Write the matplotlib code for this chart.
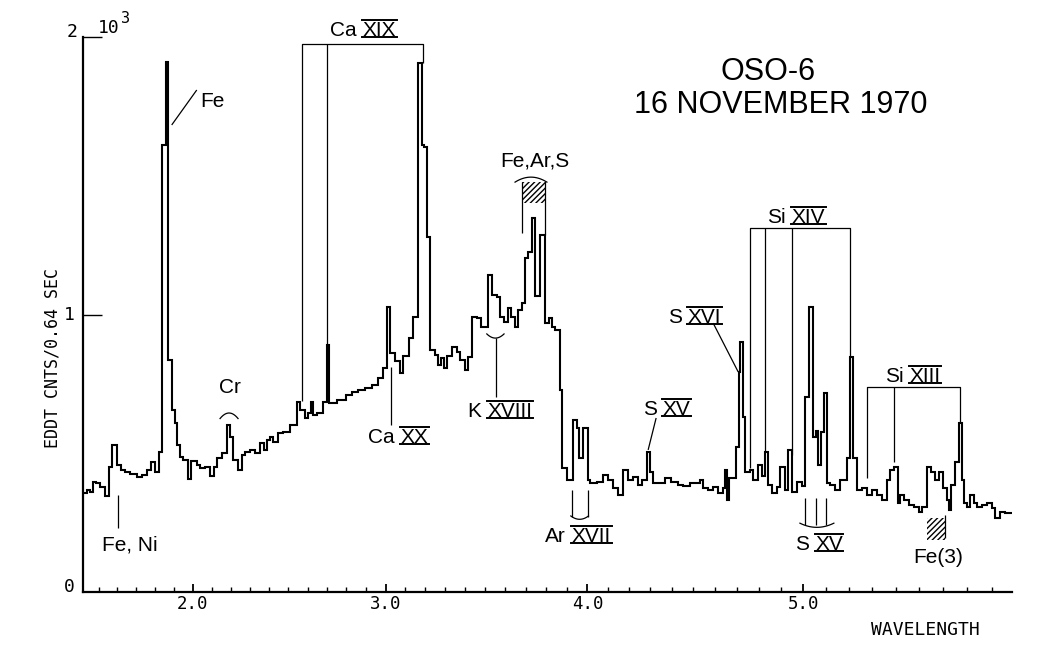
import numpy as np
import matplotlib.pyplot as plt
from matplotlib.lines import Line2D
from matplotlib.patches import Rectangle

plt.rcParams['hatch.linewidth'] = 1.0

# spectrum: wavelength (A) where each step starts, and the counts in that step
wl = [1.4155, 1.4369, 1.4545, 1.4722, 1.4866, 1.5080, 1.5348, 1.5578, 1.5706, 1.5973,
      1.6186, 1.6415, 1.6681, 1.7037, 1.7302, 1.7566, 1.7778, 1.8005, 1.8233, 1.8376,
      1.8587, 1.8709, 1.8889, 1.9063, 1.9169, 1.9328, 1.9503, 1.9767, 1.9894, 2.0211,
      2.0384, 2.0647, 2.0911, 2.1121, 2.1295, 2.1526, 2.1789, 2.1963, 2.2104, 2.2396,
      2.2573, 2.2745, 2.3005, 2.3267, 2.3529, 2.3738, 2.3911, 2.4052, 2.4223, 2.4482,
      2.4741, 2.5088, 2.5466, 2.5606, 2.5865, 2.6036, 2.6176, 2.6295, 2.6472, 2.6813,
      2.6979, 2.7108, 2.7503, 2.7979, 2.8287, 2.8595, 2.8954, 2.9311, 2.9617, 2.9872,
      3.0076, 3.0228, 3.0482, 3.0736, 3.0888, 3.1192, 3.1394, 3.1662, 3.1833, 3.1965,
      3.2085, 3.2265, 3.2500, 3.2650, 3.2800, 3.2950, 3.3101, 3.3337, 3.3588, 3.3754,
      3.4005, 3.4169, 3.4338, 3.4587, 3.4801, 3.5163, 3.5330, 3.5576, 3.5739, 3.5936,
      3.6133, 3.6281, 3.6478, 3.6640, 3.6808, 3.6970, 3.7133, 3.7300, 3.7463, 3.7709,
      3.7956, 3.8116, 3.8280, 3.8440, 3.8681, 3.8792, 3.9005, 3.9296, 3.9490, 3.9587,
      3.9782, 4.0005, 4.0133, 4.0467, 4.0752, 4.0990, 4.1228, 4.1465, 4.1702, 4.1938,
      4.2174, 4.2394, 4.2582, 4.2816, 4.2986, 4.3141, 4.3662, 4.3977, 4.4270, 4.4516,
      4.4856, 4.5321, 4.5460, 4.5690, 4.5921, 4.6151, 4.6381, 4.6472, 4.6564, 4.6656,
      4.6977, 4.7083, 4.7128, 4.7281, 4.7385, 4.7611, 4.7760, 4.7986, 4.8140, 4.8288,
      4.8437, 4.8590, 4.8815, 4.8964, 4.9187, 4.9335, 4.9487, 4.9710, 4.9933, 5.0079,
      5.0225, 5.0445, 5.0564, 5.0665, 5.0771, 5.0916, 5.1035, 5.1179, 5.1397, 5.1616,
      5.1908, 5.2022, 5.2169, 5.2342, 5.2558, 5.2775, 5.2991, 5.3205, 5.3419, 5.3632,
      5.3774, 5.3944, 5.4084, 5.4169, 5.4338, 5.4549, 5.4760, 5.4970, 5.5113, 5.5346,
      5.5488, 5.5667, 5.5846, 5.6012, 5.6153, 5.6248, 5.6318, 5.6496, 5.6632, 5.6773,
      5.6868, 5.6979, 5.7114, 5.7248, 5.7386, 5.7589, 5.7793, 5.7996, 5.8132, 5.8304,
      5.8532]
wl_end = 5.88
cnt = [356, 368, 361, 397, 393, 379, 346, 452, 530, 458,
       440, 434, 425, 414, 422, 440, 470, 434, 506, 1611,
       1910, 836, 656, 609, 530, 486, 476, 406, 472, 458,
       446, 452, 418, 452, 482, 500, 602, 560, 476, 440,
       494, 506, 512, 501, 536, 512, 548, 560, 542, 572,
       578, 602, 686, 656, 626, 644, 685, 638, 644, 686,
       890, 680, 692, 710, 721, 728, 735, 746, 771, 807,
       1027, 861, 832, 789, 850, 915, 991, 1906, 1611, 1604,
       1279, 872, 854, 818, 843, 807, 850, 884, 865, 836,
       800, 848, 992, 986, 956, 1142, 1070, 1063, 992, 974,
       1023, 991, 956, 1016, 1041, 1203, 1226, 1348, 1067, 1286,
       969, 987, 956, 944, 728, 447, 404, 620, 591, 483,
       591, 404, 393, 396, 422, 404, 375, 350, 440, 404,
       414, 386, 404, 506, 434, 393, 411, 396, 386, 382,
       393, 404, 375, 368, 379, 357, 375, 440, 332, 411,
       524, 793, 902, 632, 434, 440, 404, 458, 418, 506,
       386, 357, 379, 452, 368, 512, 361, 397, 382, 704,
       1028, 560, 580, 458, 578, 718, 392, 386, 368, 404,
       482, 848, 482, 368, 375, 350, 368, 350, 332, 404,
       440, 452, 320, 350, 332, 314, 307, 289, 307, 452,
       434, 404, 434, 375, 332, 295, 386, 470, 608, 404,
       320, 307, 350, 320, 307, 314, 320, 303, 267, 289,
       284]

# crystal spectrometer: the wavelength axis is linear in Bragg angle (2d ~ 8.7 A)
two_d = 8.7
major_ticks = [2.0, 3.0, 4.0, 5.0]
major_labels = ['2.0', '3.0', '4.0', '5.0']
minor_ticks = [round(1.5 + 0.1 * i, 1) for i in range(44)]

LAB = dict(fontfamily='Liberation Sans', fontsize=15, color='black')
MONO = 'DejaVu Sans Mono'

fig = plt.figure(figsize=(10.52, 6.55), dpi=100)
ax = fig.add_axes([82.7 / 1052, 1 - 592 / 655, (1012 - 82.7) / 1052, (592 - 37) / 655])
ax.set_xscale('function', functions=(lambda x: np.arcsin(np.clip(np.asarray(x) / two_d, -1, 1)),
                                     lambda t: two_d * np.sin(t)))
ax.set_xlim(1.4155, wl_end)
ax.set_ylim(0, 2000)

ax.stairs(cnt, wl + [wl_end], baseline=None, color='black', lw=1.5)

for s in ['top', 'right']:
    ax.spines[s].set_visible(False)
for s in ['left', 'bottom']:
    ax.spines[s].set_linewidth(1.6)

ax.set_xticks(major_ticks)
ax.set_xticklabels(major_labels)
ax.set_xticks(minor_ticks, minor=True)
ax.tick_params(axis='x', which='major', direction='in', length=6, width=1.3, pad=2, labelsize=12.5)
ax.tick_params(axis='x', which='minor', direction='in', length=3.5, width=1.0)
for lab in ax.get_xticklabels():
    lab.set_fontfamily(MONO)
ax.set_yticks([1000, 2000])
ax.set_yticklabels([])
ax.tick_params(axis='y', which='major', direction='in', length=14, width=1.0)
ax.tick_params(axis='y', which='minor', left=False)

yt = ax.get_yaxis_transform()
ax.text(-0.006, 2000, '2', transform=yt, ha='right', va='baseline', fontfamily=MONO, fontsize=13)
ax.text(-0.009, 1000, '1', transform=yt, ha='right', va='center', fontfamily=MONO, fontsize=13)
ax.text(-0.009, 0, '0', transform=yt, ha='right', va='baseline', fontfamily=MONO, fontsize=13)
ax.text(0.0165, 2014, '10', transform=yt, ha='left', va='baseline', fontfamily=MONO, fontsize=13)
ax.text(0.0415, 2052, '3', transform=yt, ha='left', va='baseline', fontfamily=MONO, fontsize=11)

fig.text(52.5 / 1052, 1 - 358 / 655, 'EDDT CNTS/0.64 SEC', rotation=90, ha='center', va='center',
         fontfamily=MONO, fontsize=12)
fig.text(925 / 1052, 1 - 630 / 655, 'WAVELENGTH', ha='center', va='center', fontfamily=MONO, fontsize=13)

fig.text(768 / 1052, 1 - 80 / 655, 'OSO-6', ha='center', va='baseline', fontfamily='Liberation Sans', fontsize=22)
fig.text(781 / 1052, 1 - 113 / 655, '16 NOVEMBER 1970', ha='center', va='baseline',
         fontfamily='Liberation Sans', fontsize=22)


def line(xs, ys):
    ax.plot(xs, ys, color='black', lw=0.9, solid_capstyle='butt')


def arc(x0, x1, y, h):
    u = np.linspace(-1, 1, 25)
    ax.plot(x0 + (u + 1) / 2 * (x1 - x0), y + h * u ** 2, color='black', lw=0.9)


def hatch_box(x0, x1, y0, y1):
    ax.add_patch(Rectangle((x0, y0), x1 - x0, y1 - y0, fill=False, hatch='//////',
                           edgecolor='black', lw=0))


# Fe
line([1.8889, 2.0211], [1683, 1809])
# Fe, Ni
line([1.6059, 1.6059], [350, 231])
# Cr
arc(2.1437, 2.2380, 645, -20)
# Ca XIX
line([2.5694, 2.5694, 3.1915, 3.1915], [690, 1975, 1975, 1906])
line([2.6990, 2.6990], [1975, 890])
# Ca XX
line([3.0279, 3.0279], [811, 602])
# K XVIII
arc(3.5084, 3.5936, 915, 15)
line([3.5527, 3.5527], [915, 703])
# Fe, Ar, S
hatch_box(3.6808, 3.7990, 1402, 1477)
line([3.6808, 3.6808], [1477, 1294])
line([3.7956, 3.7956], [1477, 1286])
arc(3.6478, 3.8039, 1495, -18)
# Ar XVII
line([3.9277, 3.9277], [368, 272])
line([4.0005, 4.0005], [368, 272])
arc(3.9199, 4.0052, 262, 12)
# S XV (4.28)
line([4.3268, 4.2892], [627, 512])
# S XVI
line([4.5921, 4.7068], [969, 793])
# Si XIV
line([4.7611, 4.7611, 5.2022, 5.2022], [447, 1311, 1311, 848])
line([4.8288, 4.8288], [1311, 505])
line([4.9487, 4.9487], [1311, 494])
# Si XIII
line([5.2775, 5.2775, 5.6702, 5.6702], [411, 740, 740, 609])
line([5.3944, 5.3944], [740, 468])
# S XV (5.0)
for xv in [5.0079, 5.0564, 5.1004]:
    line([xv, xv], [339, 241])
arc(4.9845, 5.1340, 233, 15)
# Fe(3)
hatch_box(5.5333, 5.6083, 187, 267)
line([5.6083, 5.6083], [277, 195])

# labels: element, ionisation stage (roman, drawn with bars), anchor, alignment
labels = [
    ('Fe', '', 2.0384, 1748, 'left'),
    ('Ca', 'XIX', 2.8852, 2003, 'center'),
    ('Cr', '', 2.1963, 717, 'center'),
    ('Fe, Ni', '', 1.5171, 151, 'left'),
    ('Ca', 'XX', 2.9107, 537, 'left'),
    ('K', 'XVIII', 3.5739, 631, 'center'),
    ('Fe,Ar,S', '', 3.7463, 1532, 'center'),
    ('Ar', 'XVII', 3.9553, 180, 'center'),
    ('S', 'XV', 4.2656, 638, 'left'),
    ('S', 'XVI', 4.3831, 969, 'left'),
    ('Si', 'XIV', 4.9679, 1330, 'center'),
    ('Si', 'XIII', 5.4726, 757, 'center'),
    ('S', 'XV', 5.0696, 151, 'center'),
    ('Fe(3)', '', 5.5792, 105, 'center'),
]

pending = []
for el, rn, x, y, ha in labels:
    t1 = ax.text(x, y, el, ha='left', va='baseline', **LAB)
    t2 = ax.text(x, y, rn, ha='left', va='baseline', **LAB) if rn else None
    pending.append((t1, t2, x, y, ha))

fig.canvas.draw()
r = fig.canvas.get_renderer()
px_pt = fig.dpi / 72
cap = 0.716 * LAB['fontsize'] * px_pt
inv = ax.transData.inverted()
tf = fig.transFigure.inverted()
for t1, t2, x, y, ha in pending:
    w1 = t1.get_window_extent(r).width
    gap = 0.28 * LAB['fontsize'] * px_pt
    w2 = t2.get_window_extent(r).width if t2 else 0
    tot = w1 + (gap + w2 if t2 else 0)
    px, py = ax.transData.transform((x, y))
    start = {'left': px, 'center': px - tot / 2, 'right': px - tot}[ha]
    t1.set_x(inv.transform((start, py))[0])
    if t2:
        x2 = start + w1 + gap
        t2.set_x(inv.transform((x2, py))[0])
        for yy in (py + cap + 1, py - 1):
            (a0, b0), (a1, b1) = tf.transform([(x2 - 0.5, yy), (x2 + w2 + 0.5, yy)])
            fig.add_artist(Line2D([a0, a1], [b0, b1], transform=fig.transFigure, color='black', lw=1.4))

fig.savefig('out.png', dpi=100)
